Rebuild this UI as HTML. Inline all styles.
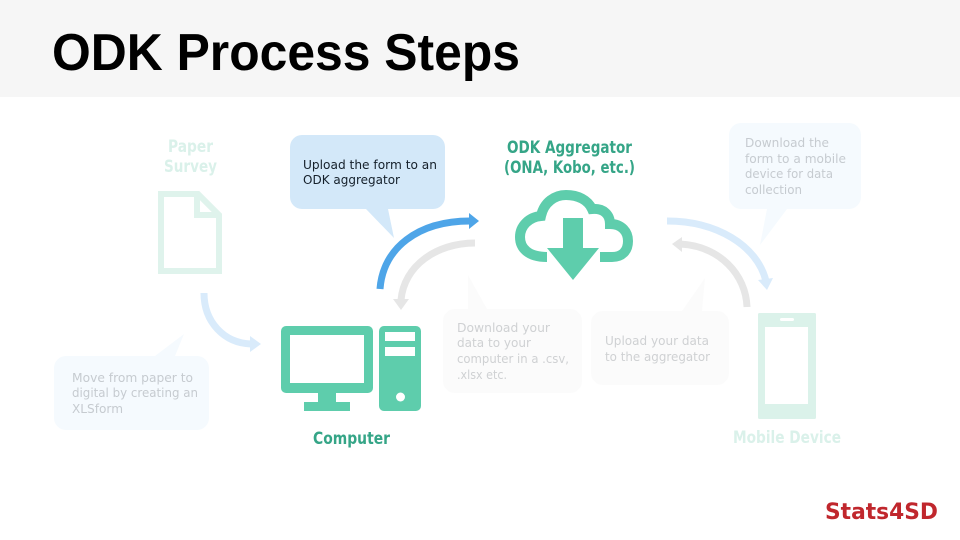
<!DOCTYPE html>
<html><head><meta charset="utf-8"><style>
html,body{margin:0;padding:0;background:#fff}
svg{display:block}
text{font-family:"Liberation Sans",sans-serif}
text.b{font-family:"DejaVu Sans",sans-serif;font-weight:bold;font-size:17px}
text.t{font-family:"DejaVu Sans",sans-serif;font-size:12.5px}
</style></head><body>
<svg width="960" height="540" viewBox="0 0 960 540" xmlns="http://www.w3.org/2000/svg">
<rect width="960" height="540" fill="#fff"/>
<rect width="960" height="97" fill="#f6f6f6"/>
<text x="52" y="70" font-size="52" font-weight="bold" fill="#000" textLength="468" lengthAdjust="spacingAndGlyphs">ODK Process Steps</text>

<!-- Paper -->
<text class="b" fill="#daf1ea" x="168" y="152" textLength="45" lengthAdjust="spacingAndGlyphs">Paper</text>
<text class="b" fill="#daf1ea" x="164" y="172" textLength="53" lengthAdjust="spacingAndGlyphs">Survey</text>
<path d="M161 194H198L219 215V271H161Z" fill="#fff" stroke="#dff3ec" stroke-width="6"/>
<path d="M197 194V215H219" fill="none" stroke="#dff3ec" stroke-width="6"/>

<!-- XLS bubble and arrow -->
<path d="M204 293C204 322 224 343 251 344" fill="none" stroke="#d9ebfb" stroke-width="7"/>
<path d="M250 336L261 344L250 352Z" fill="#d9ebfb"/>
<path d="M66 356H155L184 334L175 356H197A12 12 0 0 1 209 368V418A12 12 0 0 1 197 430H66A12 12 0 0 1 54 418V368A12 12 0 0 1 66 356Z" fill="#f5fafe"/>
<text class="t" fill="#c6cbd0" x="72" y="382" textLength="121" lengthAdjust="spacingAndGlyphs">Move from paper to</text>
<text class="t" fill="#c6cbd0" x="72" y="397" textLength="126" lengthAdjust="spacingAndGlyphs">digital by creating an</text>
<text class="t" fill="#c6cbd0" x="72" y="413" textLength="51" lengthAdjust="spacingAndGlyphs">XLSform</text>

<!-- Upload bubble -->
<path d="M302 135H433A12 12 0 0 1 445 147V197A12 12 0 0 1 433 209H388L394 238L366 209H302A12 12 0 0 1 290 197V147A12 12 0 0 1 302 135Z" fill="#d3e8f9"/>
<text class="t" fill="#15202b" x="303" y="169" textLength="134" lengthAdjust="spacingAndGlyphs">Upload the form to an</text>
<text class="t" fill="#15202b" x="303" y="184" textLength="97" lengthAdjust="spacingAndGlyphs">ODK aggregator</text>

<!-- Center arcs -->
<path d="M380 289C383 248 418 221 470 221" fill="none" stroke="#4ea5e8" stroke-width="7"/>
<path d="M469 213L479 221L469 229Z" fill="#4ea5e8"/>
<path d="M475 243C436 243 404 266 401 300" fill="none" stroke="#e6e6e6" stroke-width="7"/>
<path d="M393 299H409L401 310Z" fill="#e6e6e6"/>

<!-- Computer -->
<rect x="281" y="326" width="92" height="67" rx="5" fill="#5ecdac"/>
<rect x="290" y="335" width="74" height="48" fill="#fff"/>
<rect x="318" y="392" width="18" height="13" fill="#5ecdac"/>
<rect x="304" y="402" width="46" height="9" fill="#5ecdac"/>
<rect x="379" y="326" width="42" height="85" rx="5" fill="#5ecdac"/>
<rect x="385" y="332" width="30" height="9" fill="#fff"/>
<rect x="385" y="347" width="30" height="9" fill="#fff"/>
<circle cx="400.5" cy="397" r="4.5" fill="#fff"/>
<text class="b" fill="#35a587" x="313" y="444" textLength="77" lengthAdjust="spacingAndGlyphs">Computer</text>

<!-- Aggregator -->
<text class="b" fill="#35a587" x="507" y="153" textLength="125" lengthAdjust="spacingAndGlyphs">ODK Aggregator</text>
<text class="b" fill="#35a587" x="504" y="173" textLength="131" lengthAdjust="spacingAndGlyphs">(ONA, Kobo, etc.)</text>
<path d="M547 257C528 257 520 248 520 237C520 226 529 217 541 216C544 202 555 195 566 195C578 195 588 200 592 209C604 208 610 215 610 224C622 224 628 232 628 241C628 251 622 257 612 257H600" fill="none" stroke="#5ecdac" stroke-width="10"/>
<path d="M563 218H583V248H599L573 280L547 248H563Z" fill="#5ecdac"/>

<!-- Download bubble -->
<path d="M455 309H468V275L487 309H570A12 12 0 0 1 582 321V381A12 12 0 0 1 570 393H455A12 12 0 0 1 443 381V321A12 12 0 0 1 455 309Z" fill="#fbfbfb"/>
<text class="t" fill="#cfd1d3" x="457" y="332" textLength="93" lengthAdjust="spacingAndGlyphs">Download your</text>
<text class="t" fill="#cfd1d3" x="457" y="347" textLength="74" lengthAdjust="spacingAndGlyphs">data to your</text>
<text class="t" fill="#cfd1d3" x="457" y="363" textLength="112" lengthAdjust="spacingAndGlyphs">computer in a .csv,</text>
<text class="t" fill="#cfd1d3" x="457" y="379" textLength="50" lengthAdjust="spacingAndGlyphs">.xlsx etc.</text>

<!-- Upload data bubble -->
<path d="M603 311H682L705 278L702 311H717A12 12 0 0 1 729 323V373A12 12 0 0 1 717 385H603A12 12 0 0 1 591 373V323A12 12 0 0 1 603 311Z" fill="#fbfbfb"/>
<text class="t" fill="#cfd1d3" x="605" y="345" textLength="104" lengthAdjust="spacingAndGlyphs">Upload your data</text>
<text class="t" fill="#cfd1d3" x="605" y="361" textLength="105" lengthAdjust="spacingAndGlyphs">to the aggregator</text>

<!-- Right arcs -->
<path d="M667 221C716 221 757 245 766 281" fill="none" stroke="#d9ebfb" stroke-width="7"/>
<path d="M758 280L773 278L767 290Z" fill="#d9ebfb"/>
<path d="M747 307C746 275 720 246 680 244" fill="none" stroke="#e6e6e6" stroke-width="7"/>
<path d="M682 237L672 244L682 252Z" fill="#e6e6e6"/>

<!-- Download form bubble -->
<path d="M741 123H849A12 12 0 0 1 861 135V197A12 12 0 0 1 849 209H787L760 245L767 209H741A12 12 0 0 1 729 197V135A12 12 0 0 1 741 123Z" fill="#f5fafe"/>
<text class="t" fill="#c6cbd0" x="745" y="147" textLength="84" lengthAdjust="spacingAndGlyphs">Download the</text>
<text class="t" fill="#c6cbd0" x="745" y="163" textLength="101" lengthAdjust="spacingAndGlyphs">form to a mobile</text>
<text class="t" fill="#c6cbd0" x="745" y="178" textLength="88" lengthAdjust="spacingAndGlyphs">device for data</text>
<text class="t" fill="#c6cbd0" x="745" y="194" textLength="57" lengthAdjust="spacingAndGlyphs">collection</text>

<!-- Mobile -->
<rect x="758" y="313" width="58" height="106" rx="1.5" fill="#dbf2ea"/>
<rect x="765" y="327" width="43" height="77" fill="#fff"/>
<rect x="780" y="318" width="14" height="3" rx="1.5" fill="#fff"/>
<text class="b" fill="#daf1ea" x="733" y="443" textLength="108" lengthAdjust="spacingAndGlyphs">Mobile Device</text>

<text x="825" y="519" style="font-family:'DejaVu Sans',sans-serif" font-size="22" font-weight="bold" fill="#c0272d" textLength="113" lengthAdjust="spacingAndGlyphs">Stats4SD</text>
</svg>
</body></html>
